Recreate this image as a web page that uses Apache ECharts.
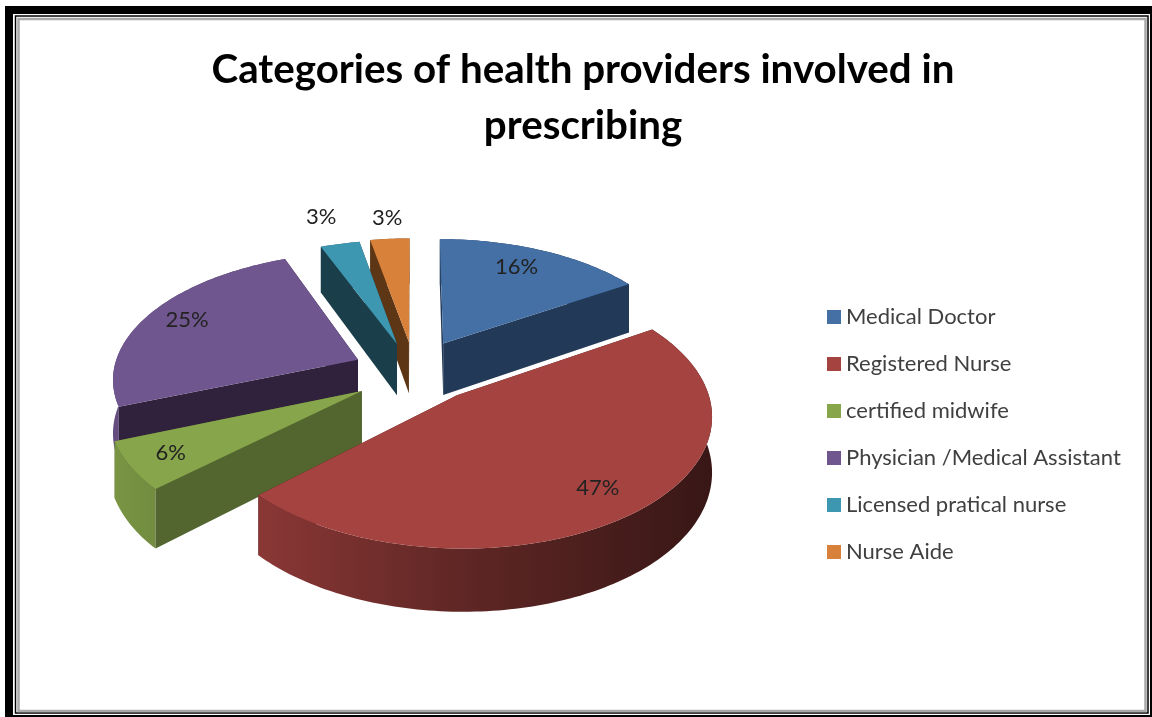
<!DOCTYPE html>
<html>
<head>
<meta charset="utf-8">
<style>html,body{margin:0;padding:0;background:#fff}#chart{width:1152px;height:717px}</style>
<script src="https://cdn.jsdelivr.net/npm/echarts@6/dist/echarts.min.js"></script>
</head>
<body>
<div id="chart"></div>
<script>
// Provider shares, in percent, clockwise from twelve o'clock
const categories = ['Medical Doctor', 'Registered Nurse', 'certified midwife',
  'Physician /Medical Assistant', 'Licensed pratical nurse', 'Nurse Aide'];
const shares = [16, 47, 6, 25, 3, 3];
const chartTitle = 'Categories of health providers involved in\nprescribing';

// Face and cut-wall colours per slice
const topColors = ['#4470A6', '#A54340', '#87A64B', '#70568E', '#3E97B0', '#D8813A'];
const wallColors = ['#223A58', '#4A1C1A', '#536630', '#30213D', '#1A3E4A', '#5C3615'];

// Tilted-disc projection with a mild perspective
const view = { cx: 413.5, cy: 372, rx: 245, ry: 125, persp: 0.135, depth: 53, explode: 0.25 };
// Fine pixel adjustments for each slice and for each percentage label
const sliceNudge = [[1, -2], [5, -2], [1, 2], [0, 0], [0, 1], [1, 0]];
const labelNudge = [[-9, -1], [3, -3], [-3, 3], [1, -2], [-5, -2], [3, 4]];
const FONT = 'Lato, Carlito, sans-serif';

const total = shares.reduce((a, b) => a + b, 0);
const starts = [];
shares.reduce((acc, v, i) => { starts[i] = acc; return acc + v; }, 0);
const toAngle = (v) => (v / total) * Math.PI * 2;
const midAngle = (i) => toAngle(starts[i] + shares[i] / 2);

// World point (X to the right, Y towards the back) to screen, at height 0 or dropped by the wall depth
function project(X, Y, drop, nudge) {
  const s = 1 / (1 + view.persp * Y);
  return [view.cx + view.rx * X * s + nudge[0],
    view.cy - view.ry * Y * s + (drop ? view.depth * s : 0) + nudge[1]];
}

function shade(hex, f) {
  const n = parseInt(hex.slice(1), 16);
  const c = [(n >> 16) & 255, (n >> 8) & 255, n & 255].map((v) => Math.round(v * f));
  return 'rgb(' + c.join(',') + ')';
}

function renderSlice(i, api) {
  const value = api.value(0);
  const nudge = sliceNudge[i];
  const a0 = toAngle(starts[i]);
  const a1 = a0 + toAngle(value);
  const mid = (a0 + a1) / 2;
  const ex = view.explode * Math.sin(mid);
  const ey = view.explode * Math.cos(mid);

  const steps = Math.max(4, Math.ceil((a1 - a0) / 0.02));
  const outline = [];
  for (let k = 0; k <= steps; k++) {
    const a = a0 + ((a1 - a0) * k) / steps;
    outline.push([ex + Math.sin(a), ey + Math.cos(a)]);
  }
  const top = (p) => project(p[0], p[1], false, nudge);
  const low = (p) => project(p[0], p[1], true, nudge);
  const apex = [ex, ey];

  const cutWall = (p) => ({
    type: 'polygon', silent: true,
    shape: { points: [top(apex), top(p), low(p), low(apex)] },
    style: { fill: wallColors[i] }
  });
  // A cut wall faces the viewer when its outward normal points to the front
  const startFacesFront = Math.cos(a0 - Math.PI / 2) < 0;
  const endFacesFront = Math.cos(a1 + Math.PI / 2) < 0;

  // Curved rim darkens from left to right across the disc
  const rimFrom = project(ex - 1, ey, false, nudge)[0];
  const rimTo = project(ex + 1, ey, false, nudge)[0];
  const rimWall = {
    type: 'polygon', silent: true,
    shape: { points: outline.map(top).concat(outline.slice().reverse().map(low)) },
    style: { fill: {
      type: 'linear', global: true, x: rimFrom, y: 0, x2: rimTo, y2: 0,
      colorStops: [
        { offset: 0, color: shade(topColors[i], 0.9) },
        { offset: 0.5, color: shade(topColors[i], 0.58) },
        { offset: 1, color: shade(topColors[i], 0.34) }
      ]
    } }
  };

  const children = [];
  if (!startFacesFront) children.push(cutWall(outline[0]));
  if (!endFacesFront) children.push(cutWall(outline[steps]));
  children.push(rimWall);
  if (startFacesFront) children.push(cutWall(outline[0]));
  if (endFacesFront) children.push(cutWall(outline[steps]));
  children.push({
    type: 'polygon', silent: true,
    shape: { points: [top(apex)].concat(outline.map(top)) },
    style: { fill: topColors[i] }
  });

  // Small slices carry their label outside the disc
  const labelR = value / total < 0.05 ? 1.28 : 0.82;
  const lp = project(ex + labelR * Math.sin(mid), ey + labelR * Math.cos(mid), false, labelNudge[i]);
  children.push({ type: 'text', silent: true, style: {
    text: value + '%', x: lp[0], y: lp[1], align: 'center', verticalAlign: 'middle',
    fontFamily: FONT, fontSize: 22, fill: '#222222' } });
  return { type: 'group', children: children };
}

// Back slices are painted first so nearer ones overlap them
const depthOrder = categories.map((_, i) => i).sort((p, q) => Math.cos(midAngle(q)) - Math.cos(midAngle(p)));

const series = categories.map((name, i) => ({
  type: 'custom',
  name: name,
  coordinateSystem: 'none',
  z: 10 + depthOrder.indexOf(i),
  itemStyle: { color: topColors[i] },
  data: [[shares[i]]],
  renderItem: (params, api) => renderSlice(i, api)
}));

// Heavy outer rule, thin black rule and inner grey line around the plot
const frameRect = (x, y, w, h, stroke, lw) => ({
  type: 'rect', silent: true, z: 1,
  shape: { x: x, y: y, width: w, height: h },
  style: { fill: 'none', stroke: stroke, lineWidth: lw }
});

const chart = echarts.init(document.getElementById('chart'), null, { renderer: 'canvas' });
chart.setOption({
  animation: false,
  backgroundColor: '#ffffff',
  title: {
    text: chartTitle,
    left: 578, top: 37,
    textAlign: 'center',
    textStyle: { fontFamily: FONT, fontWeight: 'bold', fontSize: 40.3, lineHeight: 56, color: '#000000' }
  },
  legend: {
    orient: 'vertical', left: 822, top: 300,
    icon: 'rect', itemWidth: 14, itemHeight: 14, itemGap: 23, align: 'left',
    selectedMode: false,
    textStyle: { fontFamily: FONT, fontSize: 22, color: '#404040', height: 24, lineHeight: 24 },
    data: categories
  },
  graphic: [
    frameRect(9, 10, 1145, 709, '#000000', 8),
    frameRect(15.5, 16, 1132.5, 697, '#000000', 1.5),
    frameRect(18.5, 19, 1127, 692, '#a8a8a8', 2.5)
  ],
  series: series
});
</script>
</body>
</html>
